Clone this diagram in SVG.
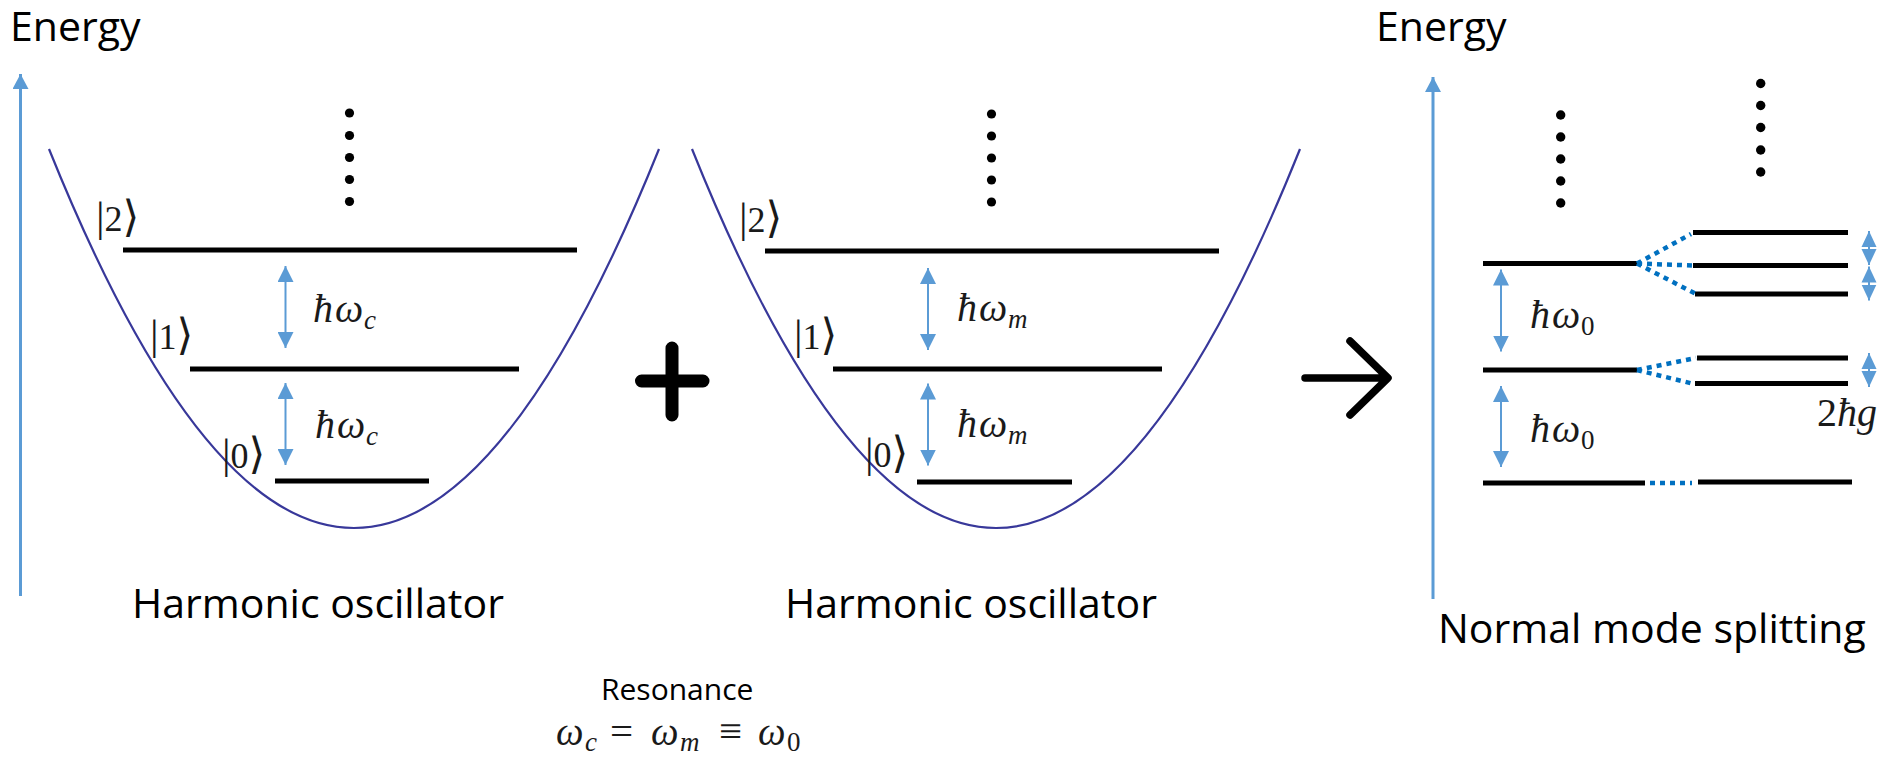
<svg xmlns="http://www.w3.org/2000/svg" width="1887" height="757" viewBox="0 0 1887 757">
<style>
.lbl{font-family:"Open Sans","Liberation Sans",sans-serif;font-size:41px;fill:#000}
.res{font-family:"Open Sans","Liberation Sans",sans-serif;font-size:30px;fill:#000}
.ket{font-family:"Liberation Serif","DejaVu Serif","DejaVu Sans",serif;font-size:36px;fill:#1a1a1a}
.br{font-size:43px}
.m{font-family:"Liberation Serif","DejaVu Serif",serif;font-style:italic;font-size:40px;fill:#1a1a1a}
.f{font-size:39px}
.sub{font-size:27px}
.up{font-style:normal}
.op{font-size:41px;font-style:normal}
.lvl{stroke:#000;stroke-width:5;fill:none}
.para{stroke:#38389a;stroke-width:2.2;fill:none}
.axis{stroke:#5b9bd5;stroke-width:3;fill:none}
.gap{stroke:#5b9bd5;stroke-width:2;fill:none}
.gsm{stroke:#5b9bd5;stroke-width:2;fill:none}
.dot{stroke:#0070c0;stroke-width:4.5;stroke-dasharray:5 5;fill:none}
.dots{fill:#000}
</style>
<defs>
<marker id="axHead" markerUnits="userSpaceOnUse" markerWidth="16" markerHeight="16" refX="15" refY="8" orient="auto">
<path d="M0,0 L15,8 L0,16 z" fill="#5b9bd5"/>
</marker>
<marker id="gHead" markerUnits="userSpaceOnUse" markerWidth="16" markerHeight="16" refX="16" refY="8" orient="auto-start-reverse">
<path d="M0,0 L16,8 L0,16 z" fill="#5b9bd5"/>
</marker>
<marker id="sHead" markerUnits="userSpaceOnUse" markerWidth="16" markerHeight="16" refX="16" refY="8" orient="auto-start-reverse">
<path d="M0,0.5 L16,8 L0,15.5 z" fill="#5b9bd5"/>
</marker>
</defs>

<g id="energy-left">
<text class="lbl" x="10" y="41">Energy</text>
</g>
<g id="energy-right">
<text class="lbl" x="1376" y="41">Energy</text>
</g>

<g id="oscillator-c">
<path class="para" d="M49,149 Q354,907 659,149"/>
<line class="lvl" x1="123" y1="250" x2="577" y2="250"/>
<line class="lvl" x1="190" y1="369" x2="519" y2="369"/>
<line class="lvl" x1="275" y1="481" x2="429" y2="481"/>
<g class="dots">
<circle cx="349.5" cy="113" r="4.6"/><circle cx="349.5" cy="135.5" r="4.6"/><circle cx="349.5" cy="157.5" r="4.6"/><circle cx="349.5" cy="179.5" r="4.6"/><circle cx="349.5" cy="201.5" r="4.6"/>
</g>
<text class="ket" x="96" y="231"><tspan class="br">|</tspan>2<tspan class="br">⟩</tspan></text>
<text class="ket" x="150" y="349"><tspan class="br">|</tspan>1<tspan class="br">⟩</tspan></text>
<text class="ket" x="222" y="468"><tspan class="br">|</tspan>0<tspan class="br">⟩</tspan></text>
<text class="m" x="313" y="322">ħ<tspan x="335">ω</tspan><tspan class="sub" x="364" dy="7">c</tspan></text>
<text class="m" x="315" y="438">ħ<tspan x="337">ω</tspan><tspan class="sub" x="366" dy="7">c</tspan></text>
<text class="lbl" x="132" y="618">Harmonic oscillator</text>
</g>

<g id="plus">
<path d="M641.5,381 H703 M672,348 V415" stroke="#000" stroke-width="13" stroke-linecap="round" fill="none"/>
</g>

<g id="oscillator-m">
<path class="para" d="M692,149 Q996,907 1300,149"/>
<line class="lvl" x1="765" y1="251" x2="1219" y2="251"/>
<line class="lvl" x1="833" y1="369" x2="1162" y2="369"/>
<line class="lvl" x1="917" y1="482" x2="1072" y2="482"/>
<g class="dots">
<circle cx="991.5" cy="114" r="4.6"/><circle cx="991.5" cy="136" r="4.6"/><circle cx="991.5" cy="158" r="4.6"/><circle cx="991.5" cy="180" r="4.6"/><circle cx="991.5" cy="202" r="4.6"/>
</g>
<text class="ket" x="739" y="232"><tspan class="br">|</tspan>2<tspan class="br">⟩</tspan></text>
<text class="ket" x="794" y="349"><tspan class="br">|</tspan>1<tspan class="br">⟩</tspan></text>
<text class="ket" x="865" y="467"><tspan class="br">|</tspan>0<tspan class="br">⟩</tspan></text>
<text class="m" x="957" y="321">ħ<tspan x="979">ω</tspan><tspan class="sub" x="1008" dy="7">m</tspan></text>
<text class="m" x="957" y="437">ħ<tspan x="979">ω</tspan><tspan class="sub" x="1008" dy="7">m</tspan></text>
<text class="lbl" x="785" y="618">Harmonic oscillator</text>
</g>

<g id="arrow-to">
<path d="M1305,378 H1387 M1350,341 L1388,378 L1350,415" stroke="#000" stroke-width="7.5" stroke-linecap="round" stroke-linejoin="round" fill="none"/>
</g>

<g id="normal-modes">
<line class="lvl" x1="1483" y1="263.5" x2="1637" y2="263.5"/>
<line class="lvl" x1="1483" y1="370" x2="1637" y2="370"/>
<line class="lvl" x1="1483" y1="483" x2="1645" y2="483"/>
<line class="lvl" x1="1693" y1="232.5" x2="1848" y2="232.5"/>
<line class="lvl" x1="1693" y1="265.5" x2="1848" y2="265.5"/>
<line class="lvl" x1="1695" y1="294" x2="1848" y2="294"/>
<line class="lvl" x1="1697" y1="358" x2="1848" y2="358"/>
<line class="lvl" x1="1695" y1="383.5" x2="1848" y2="383.5"/>
<line class="lvl" x1="1698" y1="482" x2="1852" y2="482"/>
<g class="dots">
<circle cx="1560.7" cy="115" r="4.7"/><circle cx="1560.7" cy="137" r="4.7"/><circle cx="1560.7" cy="159" r="4.7"/><circle cx="1560.7" cy="181" r="4.7"/><circle cx="1560.7" cy="203" r="4.7"/>
<circle cx="1760.7" cy="83.5" r="4.7"/><circle cx="1760.7" cy="105.5" r="4.7"/><circle cx="1760.7" cy="127.5" r="4.7"/><circle cx="1760.7" cy="150" r="4.7"/><circle cx="1760.7" cy="172" r="4.7"/>
</g>
<text class="m" x="1530" y="328">ħ<tspan x="1552">ω</tspan><tspan class="sub up" x="1581" dy="7">0</tspan></text>
<text class="m" x="1530" y="442">ħ<tspan x="1552">ω</tspan><tspan class="sub up" x="1581" dy="7">0</tspan></text>
<text class="m" x="1817" y="426"><tspan class="up">2</tspan>ħg</text>
<text class="lbl" x="1438" y="643">Normal mode splitting</text>
</g>

<g id="resonance">
<text class="res" x="601" y="700">Resonance</text>
<text class="m f" y="745"><tspan x="556">ω</tspan><tspan class="sub" x="585" dy="6">c</tspan><tspan class="op" x="610" dy="-6">=</tspan><tspan x="651">ω</tspan><tspan class="sub" x="680" dy="6">m</tspan><tspan class="op" x="719" dy="-6">≡</tspan><tspan x="758">ω</tspan><tspan class="sub up" x="787" dy="6">0</tspan></text>
</g>

<g id="connectors">
<line class="axis" x1="20.5" y1="596" x2="20.5" y2="74" marker-end="url(#axHead)"/>
<line class="axis" x1="1433" y1="599" x2="1433" y2="77" marker-end="url(#axHead)"/>
<line class="gap" x1="285.5" y1="266" x2="285.5" y2="348" marker-start="url(#gHead)" marker-end="url(#gHead)"/>
<line class="gap" x1="285.5" y1="383" x2="285.5" y2="465" marker-start="url(#gHead)" marker-end="url(#gHead)"/>
<line class="gap" x1="928" y1="268" x2="928" y2="350" marker-start="url(#gHead)" marker-end="url(#gHead)"/>
<line class="gap" x1="928" y1="383.5" x2="928" y2="465.5" marker-start="url(#gHead)" marker-end="url(#gHead)"/>
<line class="gap" x1="1501" y1="269.5" x2="1501" y2="351.5" marker-start="url(#gHead)" marker-end="url(#gHead)"/>
<line class="gap" x1="1501" y1="386" x2="1501" y2="467" marker-start="url(#gHead)" marker-end="url(#gHead)"/>
<line class="gsm" x1="1869" y1="231" x2="1869" y2="265" marker-start="url(#sHead)" marker-end="url(#sHead)"/>
<line class="gsm" x1="1869" y1="266.5" x2="1869" y2="300.5" marker-start="url(#sHead)" marker-end="url(#sHead)"/>
<line class="gsm" x1="1869" y1="353" x2="1869" y2="387" marker-start="url(#sHead)" marker-end="url(#sHead)"/>
<line class="dot" x1="1637" y1="263.5" x2="1691" y2="234"/>
<line class="dot" x1="1637" y1="263.5" x2="1693" y2="265.5"/>
<line class="dot" x1="1637" y1="263.5" x2="1696" y2="294"/>
<line class="dot" x1="1637" y1="370" x2="1696" y2="358"/>
<line class="dot" x1="1637" y1="370" x2="1694" y2="384"/>
<line class="dot" x1="1650" y1="483" x2="1692" y2="483"/>
</g>
</svg>
